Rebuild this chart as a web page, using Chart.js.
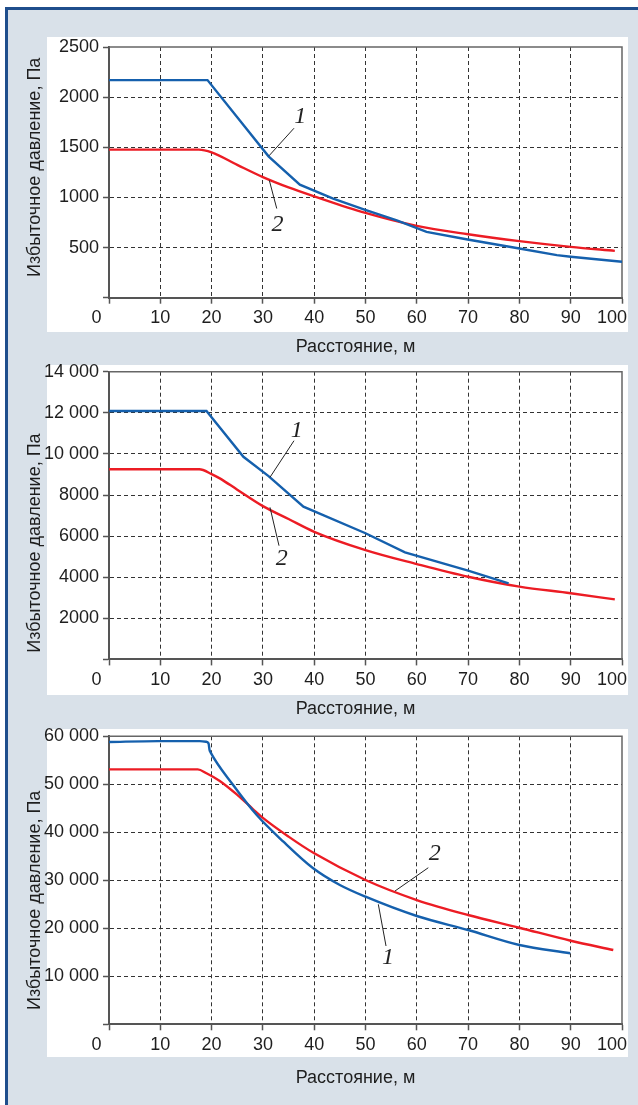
<!DOCTYPE html>
<html><head><meta charset="utf-8">
<script src="https://cdn.jsdelivr.net/npm/chart.js@4.4.1/dist/chart.umd.min.js"></script>
<style>
html,body{margin:0;padding:0;background:#fff;}
body{width:638px;height:1105px;position:relative;overflow:hidden;}
#frame{position:absolute;left:5px;top:7px;right:0;bottom:0;background:#d9e1e9;border-top:3px solid #1f4e8c;border-left:3px solid #1f4e8c;}
.panel{position:absolute;background:#fff;left:47px;width:581px;}
canvas{position:absolute;left:0;}
</style></head><body>
<div id="frame"></div>
<div class="panel" style="top:37px;height:295px"></div>
<div class="panel" style="top:365px;height:330px"></div>
<div class="panel" style="top:729px;height:328px"></div>
<canvas id="c1" width="638" height="348" style="top:10px"></canvas>
<canvas id="c2" width="638" height="358" style="top:362px"></canvas>
<canvas id="c3" width="638" height="369" style="top:720px"></canvas>
<script>
// ---------- data ----------
const xTitle = 'Расстояние, м';
const yTitle = 'Избыточное давление, Па';
const xTickLabels = ['0','10','20','30','40','50','60','70','80','90','100'];
const yTickLabels1 = ['', '500', '1000', '1500', '2000', '2500'];
const yTickLabels2 = ['', '2000', '4000', '6000', '8000', '10 000', '12 000', '14 000'];
const yTickLabels3 = ['', '10 000', '20 000', '30 000', '40 000', '50 000', '60 000'];

// chart 1
const c1Line1X = [0, 19.2, 31.1, 37.2, 43.7, 49.8, 56.1, 61.9, 69.9, 80, 87.3, 90, 100];
const c1Line1Y = [2170, 2170, 1410, 1127, 988, 879, 772, 656, 580, 491, 424, 408, 358];
const c1Line2X = [0, 17.5, 20, 25, 30, 35, 40, 50, 60, 70, 80, 90, 98.6];
const c1Line2Y = [1477, 1477, 1450, 1325, 1203, 1100, 1011, 845, 716, 633, 564, 507, 467];

// chart 2
const c2Line1X = [0, 19, 26.2, 31.1, 37.9, 50, 57.7, 70, 77.9];
const c2Line1Y = [12090, 12090, 9860, 8920, 7430, 6140, 5210, 4320, 3700];
const c2Line2X = [0, 17.6, 20, 21.6, 25, 30, 35, 40, 50, 60, 70, 80, 90, 98.6];
const c2Line2Y = [9250, 9250, 9020, 8810, 8260, 7460, 6830, 6210, 5320, 4640, 4020, 3540, 3220, 2920];

// chart 3
const c3Line1X = [0, 9.6, 17.7, 18.9, 19.4, 19.6, 19.8, 24.2, 28.8, 34, 39.8, 45, 50, 60, 70, 80, 89.9];
const c3Line1Y = [58800, 59000, 59000, 58870, 58530, 57140, 56650, 49850, 43600, 38040, 32500, 29020, 26580, 22560, 19640, 16520, 14790];
const c3Line2X = [0, 17.3, 19, 21.6, 25, 28, 30, 35, 40, 50, 60, 70, 80, 90, 98.3];
const c3Line2Y = [53100, 53100, 52300, 50700, 47800, 44900, 43000, 39100, 35620, 30060, 25890, 22770, 20120, 17410, 15480];

// curve labels (data units): text position, leader line start/end
const c1Callouts = [
  {text: '1', at: [37.3, 1806], from: [36.06, 1690], to: [31.19, 1415]},
  {text: '2', at: [32.85, 733], from: [32.7, 889], to: [31.25, 1170]}
];
const c2Callouts = [
  {text: '1', at: [36.6, 11138], from: [36.06, 10642], to: [31.38, 8861]},
  {text: '2', at: [33.66, 4900], from: [33.14, 5533], to: [31.38, 7401]}
];
const c3Callouts = [
  {text: '2', at: [63.5, 35620], from: [62.24, 32620], to: [55.75, 27770]},
  {text: '1', at: [54.4, 13815], from: [52.5, 24995], to: [54.0, 16310]}
];

// ---------- styling ----------
const FONT = '"Liberation Sans", Arial, sans-serif';
const FONT_SIZE = 18;
const TEXT = '#1e1e1e';
const BLUE = '#1560ad';
const RED = '#ec1c24';

const framePlugin = {
  id: 'frame',
  beforeDatasetsDraw(chart) {
    const {ctx, chartArea: a} = chart;
    ctx.save();
    ctx.strokeStyle = '#666';
    ctx.lineWidth = 1.5;
    ctx.beginPath();
    ctx.moveTo(a.left, a.top);
    ctx.lineTo(a.right, a.top);
    ctx.lineTo(a.right, a.bottom);
    ctx.stroke();
    ctx.restore();
  }
};

const calloutPlugin = {
  id: 'callouts',
  afterDatasetsDraw(chart, args, opts) {
    const {ctx} = chart;
    const xs = chart.scales.x, ys = chart.scales.y;
    ctx.save();
    (opts.items || []).forEach(it => {
      ctx.strokeStyle = '#222';
      ctx.lineWidth = 1;
      ctx.beginPath();
      ctx.moveTo(xs.getPixelForValue(it.from[0]), ys.getPixelForValue(it.from[1]));
      ctx.lineTo(xs.getPixelForValue(it.to[0]), ys.getPixelForValue(it.to[1]));
      ctx.stroke();
      ctx.fillStyle = '#222';
      ctx.font = 'italic 24px "Liberation Serif", "DejaVu Serif", serif';
      ctx.textAlign = 'center';
      ctx.textBaseline = 'middle';
      ctx.fillText(it.text, xs.getPixelForValue(it.at[0]), ys.getPixelForValue(it.at[1]));
    });
    ctx.restore();
  }
};

function series(xArr, yArr, color, smooth) {
  return {
    data: xArr.map((x, i) => ({x: x, y: yArr[i]})),
    borderColor: color,
    borderWidth: 2.4,
    pointRadius: 0,
    fill: false,
    tension: 0,
    cubicInterpolationMode: smooth ? 'monotone' : 'default'
  };
}

// shifts a centred title along its axis by padding with spaces
function shiftTitle(text, spaces) {
  const pad = ' '.repeat(Math.abs(spaces));
  return spaces > 0 ? text + pad : pad + text;
}

function makeChart(id, cfg) {
  const font = {family: FONT, size: FONT_SIZE};
  const gridColor = (max) => (c) => (c.tick && (c.tick.value === 0 || c.tick.value === max)) ? 'rgba(0,0,0,0)' : '#333';
  const gridDash = (c) => (c.type === 'tick' ? [4, 3] : []);
  return new Chart(document.getElementById(id), {
    type: 'line',
    data: {datasets: cfg.datasets},
    options: {
      responsive: false,
      animation: false,
      events: [],
      layout: {padding: {top: cfg.padTop, right: 16, bottom: 0, left: 0}},
      plugins: {legend: {display: false}, tooltip: {enabled: false}, callouts: {items: cfg.callouts}},
      scales: {
        x: {
          type: 'linear', min: 0, max: 100,
          ticks: {
            stepSize: 10, autoSkip: false, maxRotation: 0, minRotation: 0, padding: 4,
            font: font, color: TEXT,
            callback: (v, i) => {
              const t = xTickLabels[i];
              if (i === 0) return t + '     ';
              if (i === xTickLabels.length - 1) return t + '    ';
              return t;
            }
          },
          grid: {color: gridColor(100), lineWidth: 1, borderDash: [4, 3], tickLength: 6, tickColor: '#555', tickWidth: 1.5, tickBorderDash: []},
          border: {display: true, color: '#555', width: 2, dash: gridDash},
          title: {display: true, text: shiftTitle(xTitle, 4), font: font, color: TEXT, padding: 0},
          afterFit: (a) => { a.height = cfg.xH; a.paddingLeft = 0; a.paddingRight = 0; }
        },
        y: {
          type: 'linear', min: 0, max: cfg.yMax,
          ticks: {
            stepSize: cfg.yStep, padding: 4, font: font, color: TEXT,
            callback: (v, i) => cfg.yLabels[i]
          },
          grid: {color: gridColor(cfg.yMax), lineWidth: 1, borderDash: [4, 3], tickLength: 6, tickColor: '#555', tickWidth: 1.5, tickBorderDash: []},
          border: {display: true, color: '#555', width: 2, dash: gridDash},
          title: {display: true, text: shiftTitle(yTitle, cfg.yTitleShift), font: font, color: TEXT, padding: {top: 24, bottom: 0}},
          afterFit: (a) => { a.width = 109; a.paddingTop = 0; a.paddingBottom = 0; }
        }
      }
    },
    plugins: [framePlugin, calloutPlugin]
  });
}

makeChart('c1', {
  datasets: [series(c1Line1X, c1Line1Y, BLUE, false), series(c1Line2X, c1Line2Y, RED, true)],
  callouts: c1Callouts, padTop: 37, xH: 60.3, yMax: 2500, yStep: 500, yLabels: yTickLabels1, yTitleShift: -2
});
makeChart('c2', {
  datasets: [series(c2Line1X, c2Line1Y, BLUE, false), series(c2Line2X, c2Line2Y, RED, true)],
  callouts: c2Callouts, padTop: 9.7, xH: 60.6, yMax: 14000, yStep: 2000, yLabels: yTickLabels2, yTitleShift: 11
});
makeChart('c3', {
  datasets: [series(c3Line1X, c3Line1Y, BLUE, true), series(c3Line2X, c3Line2Y, RED, true)],
  callouts: c3Callouts, padTop: 16.3, xH: 64.7, yMax: 60000, yStep: 10000, yLabels: yTickLabels3, yTitleShift: 8
});
</script>
</body></html>
